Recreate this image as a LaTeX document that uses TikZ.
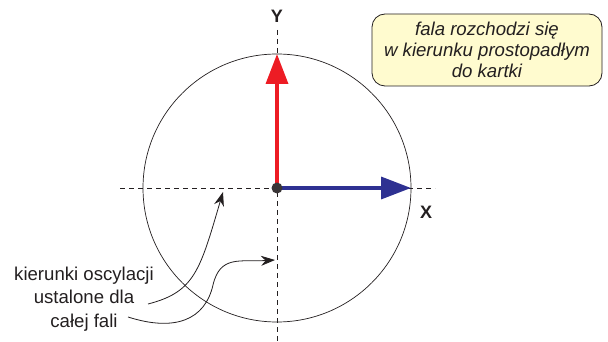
\documentclass[tikz,border=0pt]{standalone}
\usepackage{fontspec}
\setmainfont{Liberation Sans}
\usetikzlibrary{arrows.meta}
\definecolor{txt}{HTML}{231F20}
\definecolor{redv}{HTML}{ED1C24}
\definecolor{bluev}{HTML}{2E3192}
\definecolor{boxfill}{HTML}{FFFBCF}
\tikzset{
  axis/.style={dashed, dash pattern=on 5pt off 4pt, line width=0.7pt, txt},
  vecred/.style={line width=3.5pt, redv, -{Triangle[length=30pt,width=22pt]}},
  vecblue/.style={line width=3.5pt, bluev, -{Triangle[length=30pt,width=22pt]}},
  pointer/.style={line width=0.8pt, txt, -{Stealth[length=14pt,width=10pt]}},
  lbl/.style={font=\fontsize{18.6}{23.5}\selectfont, text=txt, align=center, inner sep=0pt},
  note/.style={draw=txt, line width=0.8pt, fill=boxfill, rounded corners=13pt,
    font=\fontsize{18.6}{21}\selectfont\itshape, text=txt, align=center,
    minimum width=230pt, minimum height=72pt, inner sep=2pt},
  axlbl/.style={font=\fontsize{18}{18}\selectfont\bfseries, text=txt, inner sep=0pt}
}
\begin{document}
\begin{tikzpicture}[x=1pt,y=-1pt]
\useasboundingbox (0,0) rectangle (608,342);
\coordinate (O) at (277,188);
\coordinate (hl) at (120,188);
\coordinate (hr) at (435,188);
\coordinate (vt) at (277,30);
\coordinate (vb) at (277,342);
\draw[line width=0.7pt, txt] (O) circle (134);
\draw[axis] (hl) -- (hr);
\draw[axis] (vt) -- (vb);
\coordinate (ytip) at (277,54);
\coordinate (xtip) at (411,188);
\draw[vecred] (O) -- (ytip);
\draw[vecblue] (O) -- (xtip);
\node[circle, fill=txt!90, minimum size=11pt, inner sep=0pt] (dot) at (O) {};
\node[axlbl] (Y) at (277,16) {Y};
\node[axlbl] (X) at (426,212) {X};
\node[note] (box) at (487,50) {fala rozchodzi się\\w kierunku prostopadłym\\do kartki};
\node[lbl] (lab) at (84,299) {kierunki oscylacji\\ustalone dla\\całej fali};
\coordinate (s1) at (148,304);
\coordinate (t1) at (223,192);
\coordinate (s2) at (128,317);
\coordinate (t2) at (275,260);
\draw[pointer] (s1) .. controls (195,292) and (200,270) .. (t1);
\draw[pointer] (s2) .. controls (175,332) and (205,320) .. (213,285)
  .. controls (220,255) and (240,262) .. (t2);
\end{tikzpicture}
\end{document}
